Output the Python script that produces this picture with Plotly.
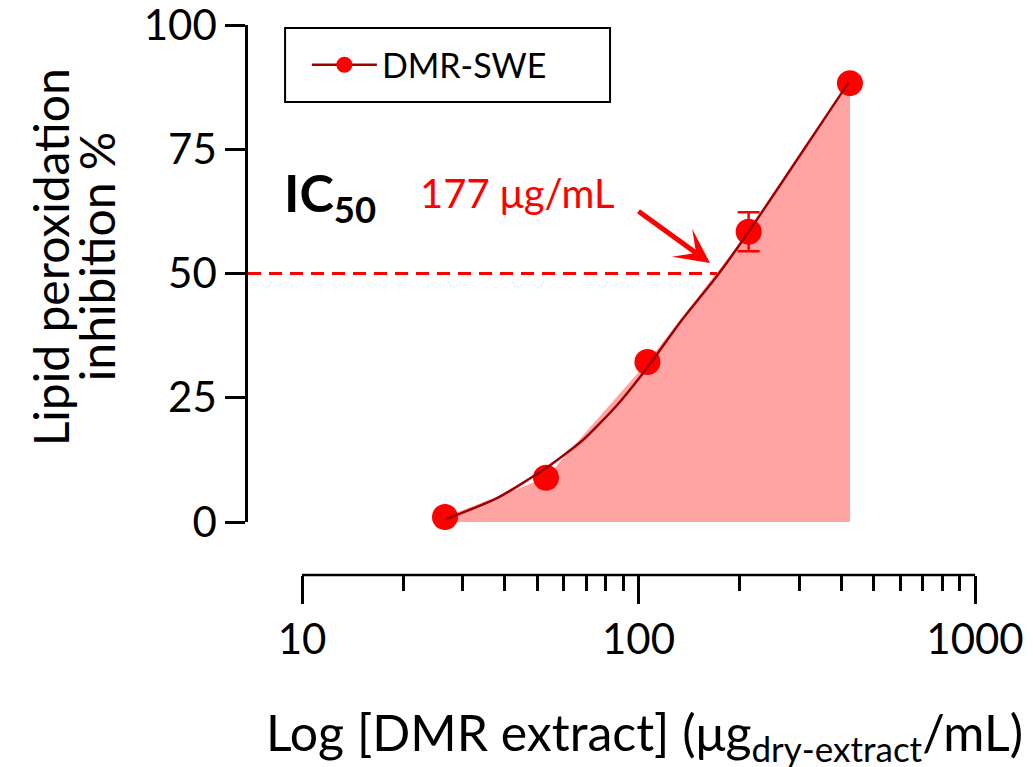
import plotly.graph_objects as go

# ---- data ----
conc = [26.6, 53.1, 106.3, 212.5, 425.0]          # µg/mL
inhibition = [1.0, 8.9, 32.2, 58.4, 88.3]         # %
inhibition_err = [0, 0, 0, 3.9, 0]

fit_x = [26.6, 38.0, 52.7, 68.4, 86.3, 106.0, 133.0, 172.0, 214.5, 302.0, 420.0]
fit_y = [0.5, 4.8, 10.7, 16.5, 23.5, 31.0, 40.2, 49.7, 58.8, 73.8, 88.3]

ic50_line_end = 171.0
ic50_label = "177 μg/mL"
y_ticks = [0, 25, 50, 75, 100]
x_ticks = [10, 100, 1000]
x_minor = [20, 30, 40, 50, 60, 70, 80, 90, 200, 300, 400, 500, 600, 700, 800, 900]
series_name = "DMR-SWE"

FONT = "Lato"
RED = "#FF0000"
DARK = "#A00000"
PINK = "#FFA3A3"

X_LOG_MIN = 0.8395  # log10 left edge of plotting area (y axis sits left of 10)

fig = go.Figure()

fig.add_trace(go.Scatter(x=conc, y=inhibition, mode="none", fill="tozeroy",
                         fillcolor=PINK, showlegend=False, hoverinfo="skip"))
fig.add_trace(go.Scatter(x=conc, y=inhibition, mode="markers",
                         marker=dict(color=RED, size=26),
                         error_y=dict(type="data", array=inhibition_err, color=RED,
                                      thickness=2.5, width=11),
                         cliponaxis=False, showlegend=False))
fig.add_trace(go.Scatter(x=fit_x, y=fit_y, mode="lines",
                         line=dict(color=DARK, width=2.5, shape="spline", smoothing=0.6),
                         cliponaxis=False, showlegend=False))
fig.add_trace(go.Scatter(x=[None], y=[None], mode="lines+markers", name=series_name,
                         line=dict(color=DARK, width=2.5),
                         marker=dict(color=RED, size=24)))

# IC50 dashed line
fig.add_shape(type="line", xref="x", yref="y", x0=10 ** X_LOG_MIN, x1=ic50_line_end,
              y0=50, y1=50, line=dict(color=RED, width=3, dash="13px,8px"))
# offset x axis line from 10 to 1000
fig.add_shape(type="line", xref="x", yref="paper", x0=x_ticks[0], x1=x_ticks[-1],
              y0=0, y1=0, line=dict(color="black", width=2.5))
# legend frame
fig.add_shape(type="rect", xref="paper", yref="paper", x0=0.051, x1=0.498,
              y0=0.86, y1=0.9945, line=dict(color="black", width=2))

# arrow pointing at the IC50 crossing
fig.add_annotation(x=2.2124, y=52.1, xref="x", yref="y",
                   ax=-73, ay=-53, axref="pixel", ayref="pixel",
                   text="", showarrow=True, arrowhead=3, arrowwidth=5, arrowsize=1.15,
                   arrowcolor=RED)
fig.add_annotation(x=0.371, y=0.695, xref="paper", yref="paper",
                   xanchor="center", yanchor="middle",
                   text=ic50_label, showarrow=False,
                   font=dict(family=FONT, size=40, color=RED))
fig.add_annotation(x=0.113, y=0.69, xref="paper", yref="paper",
                   xanchor="center", yanchor="middle",
                   text="<b>IC<sub>50</sub></b>", showarrow=False,
                   font=dict(family=FONT, size=52, color="black"))
fig.add_annotation(x=0.545, y=-0.291, xref="paper", yref="paper",
                   xanchor="center", yanchor="middle",
                   text="Log [DMR extract] (μg<sub>dry-extract</sub>/mL)", showarrow=False,
                   font=dict(family=FONT, size=50, color="black"))
fig.add_annotation(x=-0.272, y=0.578, xref="paper", yref="paper", textangle=-90,
                   xanchor="center", yanchor="middle",
                   text="Lipid peroxidation", showarrow=False,
                   font=dict(family=FONT, size=48, color="black"))
fig.add_annotation(x=-0.209, y=0.578, xref="paper", yref="paper", textangle=-90,
                   xanchor="center", yanchor="middle",
                   text="inhibition %", showarrow=False,
                   font=dict(family=FONT, size=48, color="black"))

fig.update_layout(
    width=1033, height=767,
    margin=dict(l=248, r=58, t=25, b=192, autoexpand=False),
    paper_bgcolor="white", plot_bgcolor="white",
    font=dict(family=FONT, color="black"),
    legend=dict(x=0.081, y=0.927, xanchor="left", yanchor="middle",
                bgcolor="rgba(0,0,0,0)", borderwidth=0, itemwidth=65,
                font=dict(family=FONT, size=34)),
    xaxis=dict(type="log", range=[X_LOG_MIN, 3], domain=[0, 1], anchor="free", position=0,
               automargin=False,
               showline=False, showgrid=False, zeroline=False,
               tickvals=x_ticks, ticktext=[str(v) for v in x_ticks],
               ticks="outside", ticklen=28, tickwidth=2.5, tickcolor="black",
               ticklabeloverflow="allow",
               tickfont=dict(family=FONT, size=42),
               minor=dict(tickvals=x_minor, ticks="outside", ticklen=15,
                          tickwidth=2.5, tickcolor="black", showgrid=False)),
    yaxis=dict(range=[0, 100], domain=[53 / 550, 1], anchor="x", automargin=False,
               showline=True, linecolor="black", linewidth=2.5,
               showgrid=False, zeroline=False, ticklabeloverflow="allow",
               tickvals=y_ticks, ticks="outside", ticklen=20, tickwidth=2.5,
               tickcolor="black", tickfont=dict(family=FONT, size=42)),
)

fig.write_html("out.html")
